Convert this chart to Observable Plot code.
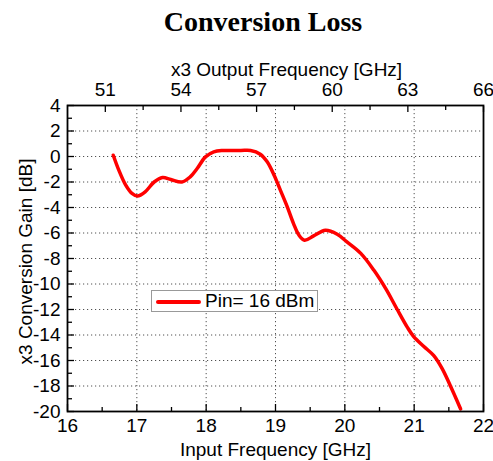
<!DOCTYPE html>
<html>
<head>
<meta charset="utf-8">
<script src="https://cdn.jsdelivr.net/npm/d3@7"></script>
<script src="https://cdn.jsdelivr.net/npm/@observablehq/plot@0.6"></script>
<style>
  body { margin: 0; background: #fff; }
  #wrap { position: relative; width: 493px; height: 461px; font-family: "Liberation Sans", Arial, sans-serif; }
  #title { height: 42px; line-height: 44px; font-family: "Liberation Serif", "Times New Roman", serif; font-weight: bold; font-size: 28px; text-align: center; padding-left: 33px; box-sizing: border-box; color: #000; }
  #legend { position: absolute; left: 151px; top: 290px; width: 167px; height: 22px; border: 1px solid #999; background: #fff; box-sizing: border-box; font-size: 19px; color: #000; }
  #legend .sw { position: absolute; left: 4px; top: 9px; width: 45px; height: 4px; background: #ff0000; border-radius: 2px; }
  #legend .tx { position: absolute; left: 53px; top: -1px; line-height: 22px; white-space: nowrap; }
</style>
</head>
<body>
<div id="wrap">
  <div id="title">Conversion Loss</div>
  <div id="chart"></div>
  <div id="legend"><div class="sw"></div><div class="tx">Pin= 16 dBm</div></div>
</div>
<script>
// Data
const freq = [16.66, 16.74, 16.84, 16.93, 17.01, 17.12, 17.25, 17.37, 17.49, 17.65, 17.77, 17.87, 17.99, 18.11, 18.25, 18.5, 18.64, 18.78, 18.88, 18.98, 19.07, 19.17, 19.26, 19.34, 19.42, 19.55, 19.72, 19.89, 20.03, 20.23, 20.42, 20.59, 20.75, 20.9, 20.99, 21.14, 21.28, 21.4, 21.52, 21.67];
const gain = [0.1, -1.07, -2.25, -2.9, -3.1, -2.77, -2.0, -1.65, -1.8, -2.0, -1.6, -0.94, -0.03, 0.37, 0.47, 0.47, 0.47, 0.18, -0.42, -1.47, -2.64, -3.95, -5.26, -6.18, -6.57, -6.23, -5.79, -6.1, -6.7, -7.6, -8.93, -10.37, -11.94, -13.38, -14.1, -14.9, -15.6, -16.6, -17.96, -19.8];

const xTicks = [16, 17, 18, 19, 20, 21, 22];
const xMinor = [16.5, 17.5, 18.5, 19.5, 20.5, 21.5];
const xGrid = [17, 18, 19, 20, 21];
const yTicks = [-20, -18, -16, -14, -12, -10, -8, -6, -4, -2, 0, 2, 4];
const yMinor = [-19, -17, -15, -13, -11, -9, -7, -5, -3, -1, 1, 3];
const yGrid = [-18, -16, -14, -12, -10, -8, -6, -4, -2, 0, 2];
const topTicks = [51, 54, 57, 60, 63, 66];
const topMinor = [52.5, 55.5, 58.5, 61.5, 64.5];
const topDomain = [49.5, 66];   // output-frequency range spanned by the frame
const xDomain = [16, 22];
const yDomain = [-20, 4];

const xLabel = "Input Frequency [GHz]";
const topLabel = "x3 Output Frequency [GHz]";
const yLabel = "x3 Conversion Gain [dB]";

const toInput = o => xDomain[0] + (o - topDomain[0]) / (topDomain[1] - topDomain[0]) * (xDomain[1] - xDomain[0]);
const toOutput = x => topDomain[0] + (x - xDomain[0]) / (xDomain[1] - xDomain[0]) * (topDomain[1] - topDomain[0]);

const data = freq.map((f, i) => ({f, g: gain[i]}));
const font = 19;
const gridStyle = {stroke: "#333", strokeOpacity: 0.85, strokeWidth: 1, strokeDasharray: "1.2,2.8"};

const chart = Plot.plot({
  width: 493,
  height: 419,
  marginTop: 63,
  marginBottom: 50,
  marginLeft: 67,
  marginRight: 10,
  style: {fontFamily: "'Liberation Sans', Arial, sans-serif", fontSize: font + "px", color: "#000", background: "#fff"},
  x: {domain: xDomain, axis: null},
  y: {domain: yDomain, axis: null},
  marks: [
    Plot.gridX(xGrid, gridStyle),
    Plot.gridY(yGrid, gridStyle),
    // bottom axis
    Plot.axisX(xTicks, {anchor: "bottom", tickSize: -7, fill: "none", label: null, strokeWidth: 1.3}),
    Plot.axisX(xMinor, {anchor: "bottom", tickSize: -4, fill: "none", label: null, strokeWidth: 1.3}),
    Plot.axisX(xTicks, {anchor: "bottom", tickSize: 0, tickPadding: 7, label: null, fontSize: font, tickFormat: d => String(d)}),
    // top axis (output frequency)
    Plot.axisX(topTicks.map(toInput), {anchor: "top", tickSize: -6, fill: "none", label: null, strokeWidth: 1.3}),
    Plot.axisX(topMinor.map(toInput), {anchor: "top", tickSize: -4, fill: "none", label: null, strokeWidth: 1.3}),
    Plot.axisX(topTicks.map(toInput), {anchor: "top", tickSize: 0, tickPadding: 10, label: null, fontSize: font, tickFormat: d => String(Math.round(toOutput(d)))}),
    // left axis
    Plot.axisY(yTicks, {anchor: "left", tickSize: -7, fill: "none", label: null, strokeWidth: 1.3}),
    Plot.axisY(yMinor, {anchor: "left", tickSize: -5, fill: "none", label: null, strokeWidth: 1.3}),
    Plot.axisY(yTicks, {anchor: "left", tickSize: 0, tickPadding: 7, label: null, fontSize: font, tickFormat: d => String(d)}),
    // axis titles
    Plot.text([xLabel], {frameAnchor: "bottom", lineAnchor: "bottom", dy: 44, text: d => d, fontSize: font}),
    Plot.text([topLabel], {frameAnchor: "top", lineAnchor: "bottom", dy: -30, dx: 11, text: d => d, fontSize: font}),
    Plot.text([yLabel], {frameAnchor: "left", textAnchor: "middle", lineAnchor: "bottom", rotate: -90, dx: -36, dy: 3, text: d => d, fontSize: font}),
    // data
    Plot.line(data, {x: "f", y: "g", stroke: "#ff0000", strokeWidth: 3.5, curve: "catmull-rom"}),
    Plot.frame({stroke: "#000", strokeWidth: 1.8})
  ]
});
document.getElementById("chart").appendChild(chart);
</script>
</body>
</html>
